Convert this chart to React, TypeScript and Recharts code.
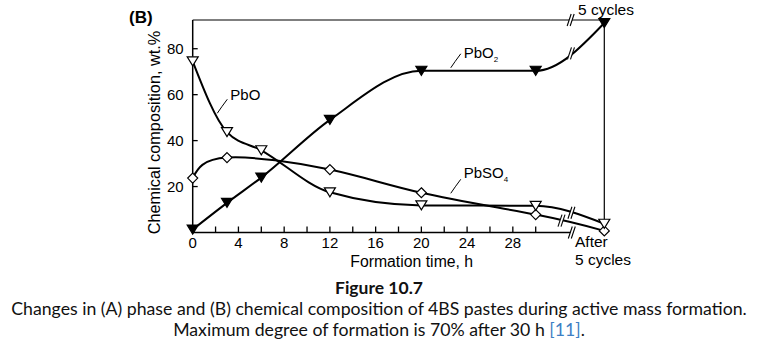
import React from "react"
import { LineChart, Line, XAxis, YAxis, ReferenceLine, ReferenceDot } from "recharts"

// formation time, h (36 = "after 5 cycles")
const times = [0, 3, 6, 12, 20, 30, 36]
const pbo2 = [1.3, 12.9, 23.9, 49, 70.4, 70.4, 91.2]
const pbo = [74.5, 43.7, 35.8, 17.5, 11.8, 11.6, 3.8]
const pbso4 = [23.7, 32.6, null, 27.4, 17.3, 7.8, 0.7]

const xTicks = [0, 2, 4, 6, 8, 10, 12, 14, 16, 18, 20, 22, 24, 26, 28, 30]
const xLabels = [0, 4, 8, 12, 16, 20, 24, 28]
const yTicks = [20, 40, 60, 80]

const data = times.map((t, i) => ({ t, pbo2: pbo2[i], pbo: pbo[i], pbso4: pbso4[i] }))

const FONT = "'Liberation Sans', Arial, sans-serif"

function XTick(props: any) {
  const { x, y, payload } = props
  const v = payload.value
  return (
    <g>
      <line x1={x} x2={x} y1={y} y2={y - 6} stroke="#000" strokeWidth={1.3} />
      {xLabels.includes(v) && (
        <text x={x} y={y + 15} textAnchor="middle" fontSize={15} fontFamily={FONT} fill="#000">
          {v}
        </text>
      )}
    </g>
  )
}

function YTick(props: any) {
  const { x, y, payload } = props
  return (
    <g>
      <line x1={x} x2={x + 5} y1={y} y2={y} stroke="#000" strokeWidth={1.3} />
      <text x={x - 9} y={y + 5.5} textAnchor="end" fontSize={15} fontFamily={FONT} fill="#000">
        {payload.value}
      </text>
    </g>
  )
}

function triDot(filled: boolean) {
  return (props: any) => {
    const { cx, cy, index } = props
    if (cx == null || cy == null) return <g key={index} />
    return (
      <polygon
        key={index}
        points={`${cx - 5.5},${cy - 4.5} ${cx + 5.5},${cy - 4.5} ${cx},${cy + 4.5}`}
        fill={filled ? "#000" : "#fff"}
        stroke="#000"
        strokeWidth={1.2}
      />
    )
  }
}

function diamondDot(props: any) {
  const { cx, cy, index } = props
  if (cx == null || cy == null) return <g key={index} />
  return (
    <polygon
      key={index}
      points={`${cx},${cy - 5} ${cx + 5},${cy} ${cx},${cy + 5} ${cx - 5},${cy}`}
      fill="#fff"
      stroke="#000"
      strokeWidth={1.2}
    />
  )
}

// axis / curve break mark "//"
function BreakMark(props: any) {
  const { cx, cy } = props
  return (
    <g>
      <polygon points={`${cx - 4},${cy + 6} ${cx},${cy - 6} ${cx + 3},${cy - 6} ${cx - 1},${cy + 6}`} fill="#fff" />
      <line x1={cx - 4} y1={cy + 6} x2={cx} y2={cy - 6} stroke="#000" strokeWidth={1.1} />
      <line x1={cx - 1} y1={cy + 6} x2={cx + 3} y2={cy - 6} stroke="#000" strokeWidth={1.1} />
    </g>
  )
}

function leaderLabel(name: string, sub: string, dy: number) {
  return (props: any) => {
    const { cx, cy } = props
    return (
      <g>
        <path d={`M${cx},${cy} Q${cx + 4},${cy - 6} ${cx + 10},${cy - 14}`} fill="none" stroke="#000" strokeWidth={1} />
        <text x={cx + 13} y={cy + dy} fontSize={15} fontFamily={FONT} fill="#000">
          {name}
          {sub && (
            <tspan fontSize={8} dy={4}>
              {sub}
            </tspan>
          )}
        </text>
      </g>
    )
  }
}

export default function App() {
  return (
    <div style={{ position: "absolute", left: 0, top: 0, width: 758, height: 350, background: "#fff" }}>
      <LineChart width={758} height={350} data={data} margin={{ top: 20, right: 153.7, bottom: 87.5, left: 152.7 }}>
        <XAxis
          dataKey="t"
          type="number"
          domain={[0, 36]}
          ticks={xTicks}
          interval={0}
          axisLine={false}
          tickLine={false}
          tickSize={0}
          tickMargin={0}
          height={30}
          tick={<XTick />}
        />
        <YAxis
          type="number"
          domain={[0, 92.5]}
          ticks={yTicks}
          interval={0}
          width={40}
          axisLine={{ stroke: "#000", strokeWidth: 1.5 }}
          tickLine={false}
          tickSize={0}
          tickMargin={0}
          tick={<YTick />}
        />
        <ReferenceLine segment={[{ x: 0, y: 0 }, { x: 33.25, y: 0 }]} stroke="#000" strokeWidth={1.5} />
        <ReferenceLine segment={[{ x: 0, y: 92.5 }, { x: 36, y: 92.5 }]} stroke="#000" strokeWidth={1.2} />
        <ReferenceLine segment={[{ x: 36, y: 92.5 }, { x: 36, y: 5.5 }]} stroke="#000" strokeWidth={1.2} />
        <Line dataKey="pbso4" type="natural" stroke="#000" strokeWidth={2} connectNulls dot={diamondDot} isAnimationActive={false} />
        <Line dataKey="pbo" type="monotone" stroke="#000" strokeWidth={2} dot={triDot(false)} isAnimationActive={false} />
        <Line dataKey="pbo2" type="monotone" stroke="#000" strokeWidth={2} dot={triDot(true)} isAnimationActive={false} />
        <ReferenceDot x={33.1} y={92.5} shape={BreakMark} />
        <ReferenceDot x={33.13} y={78} shape={BreakMark} />
        <ReferenceDot x={33.17} y={8.6} shape={BreakMark} />
        <ReferenceDot x={32.3} y={5.2} shape={BreakMark} />
        <ReferenceDot x={33.2} y={0} shape={BreakMark} />
        <ReferenceDot x={2.15} y={51.9} shape={leaderLabel("PbO", "", -13)} />
        <ReferenceDot x={22.57} y={71.7} shape={leaderLabel("PbO", "2", -10)} />
        <ReferenceDot x={22.57} y={17.06} shape={leaderLabel("PbSO", "4", -15)} />
      </LineChart>
      <svg width={758} height={350} style={{ position: "absolute", left: 0, top: 0, pointerEvents: "none" }}>
        <g fontFamily={FONT} fill="#000">
          <text x={129} y={23} fontSize={17} fontWeight="bold">(B)</text>
          <text transform="translate(160,132.5) rotate(-90)" textAnchor="middle" fontSize={16.3}>
            Chemical composition, wt.%
          </text>
          <text x={411.7} y={267} textAnchor="middle" fontSize={15.8}>Formation time, h</text>
          <text x={575} y={247} fontSize={15.5}>After</text>
          <text x={575} y={265} fontSize={15.5}>5 cycles</text>
          <text x={578} y={15} fontSize={15.5}>5 cycles</text>
        </g>
        <g fontFamily="Lato, 'Open Sans', sans-serif" fill="#111" textAnchor="middle">
          <text x={379} y={294} fontSize={17.5} fontWeight="bold">Figure 10.7</text>
          <text x={379} y={315} fontSize={17.7}>
            Changes in (A) phase and (B) chemical composition of 4BS pastes during active mass formation.
          </text>
          <text x={379} y={336.3} fontSize={17.7}>
            Maximum degree of formation is 70% after 30 h <tspan fill="#3d7fc4">[11]</tspan>.
          </text>
        </g>
      </svg>
    </div>
  )
}
